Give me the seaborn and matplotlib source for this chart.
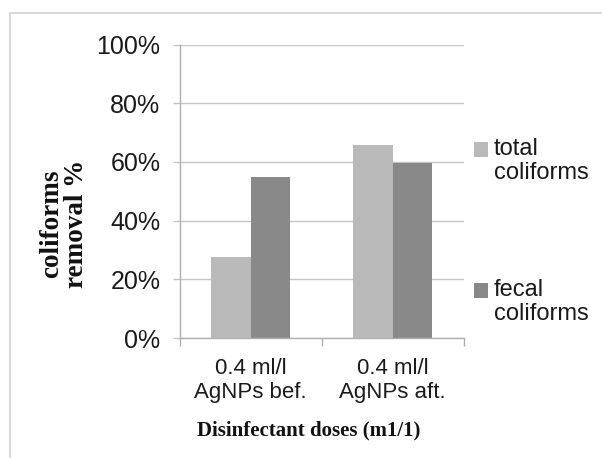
import matplotlib
matplotlib.use("Agg")
import matplotlib.pyplot as plt
import seaborn as sns
import pandas as pd
from matplotlib.patches import Rectangle
from matplotlib.ticker import FixedLocator, FuncFormatter

categories = ["0.4 ml/l\nAgNPs bef.", "0.4 ml/l\nAgNPs aft."]
series_names = ["total\ncoliforms", "fecal\ncoliforms"]
total_coliforms = [27.5, 65.8]
fecal_coliforms = [54.7, 59.6]
y_ticks = [0, 20, 40, 60, 80, 100]
colors = ["#b9b9b9", "#898989"]

df = pd.DataFrame({
    "dose": categories * 2,
    "removal": total_coliforms + fecal_coliforms,
    "type": [series_names[0]] * 2 + [series_names[1]] * 2,
})

sns.set_theme(style="white")
plt.rcParams["font.family"] = ["Liberation Sans", "DejaVu Sans"]

W, H = 602, 458
fig = plt.figure(figsize=(W / 100, H / 100), dpi=100)
ax = fig.add_axes([179.7 / W, 1 - 338 / H, 284 / W, 293.5 / H])

sns.barplot(data=df, x="dose", y="removal", hue="type", palette=colors,
            width=0.56, saturation=1, legend=False, ax=ax,
            edgecolor="none", linewidth=0)

ax.set_ylim(0, 100)
ax.set_xlim(-0.5, 1.5)
ax.set_yticks(y_ticks)
ax.yaxis.set_major_formatter(FuncFormatter(lambda v, p: f"{int(v)}%"))
ax.yaxis.grid(True, color="#c4c4c4", linewidth=1)
ax.set_axisbelow(True)

for s in ["top", "right"]:
    ax.spines[s].set_visible(False)
for s in ["left", "bottom"]:
    ax.spines[s].set_color("#b0b0b0")
    ax.spines[s].set_linewidth(1)

ax.tick_params(axis="y", which="major", length=5, width=1, color="#c4c4c4",
               labelsize=18, pad=9, labelcolor="#1a1a1a", left=True)
ax.tick_params(axis="x", which="major", length=0, labelsize=16, pad=14.5,
               labelcolor="#1a1a1a")
ax.xaxis.set_minor_locator(FixedLocator([-0.5, 0.5, 1.5]))
ax.tick_params(axis="x", which="minor", length=6, width=1, color="#b0b0b0",
               bottom=True)
for lbl in ax.get_xticklabels():
    lbl.set_linespacing(1.2)

ax.set_xlabel("Disinfectant doses (m1/1)", family="Liberation Serif",
              fontweight="bold", fontsize=15, color="#111111")
ax.xaxis.set_label_coords((309 - 179.7) / 284, -(430 - 338) / 293.5)
ax.xaxis.label.set_va("center")
ax.set_ylabel("coliforms\nremoval %", family="Liberation Serif",
              fontweight="bold", fontsize=19.5, color="#111111", linespacing=1.0)
ax.yaxis.set_label_coords((64 - 179.7) / 284, (338 - 224) / 293.5)
ax.yaxis.label.set_va("center")

# legend (manual, Excel-like layout)
leg_items = [(series_names[0], colors[0], 142), (series_names[1], colors[1], 283)]
for name, col, ytop in leg_items:
    fig.patches.append(Rectangle((474 / W, 1 - (ytop + 15) / H), 14 / W, 15 / H,
                                 transform=fig.transFigure, facecolor=col,
                                 edgecolor="none"))
    fig.text(494 / W, 1 - (ytop - 4) / H, name, fontsize=17, va="top",
             ha="left", linespacing=1.12, color="#1a1a1a")

# outer chart frame
fig.patches.append(Rectangle((10 / W, -0.1), 1.2, 1.1 - 13 / H,
                             transform=fig.transFigure, facecolor="none",
                             edgecolor="#d9d9d9", linewidth=1.5))

fig.savefig("out.png", dpi=100)
